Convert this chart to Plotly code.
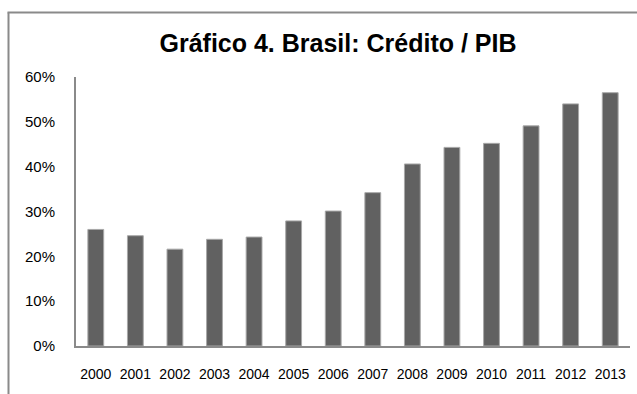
import plotly.graph_objects as go

years = ["2000", "2001", "2002", "2003", "2004", "2005", "2006",
         "2007", "2008", "2009", "2010", "2011", "2012", "2013"]
credito_pib = [0.260, 0.246, 0.216, 0.238, 0.243, 0.279, 0.301,
               0.342, 0.406, 0.443, 0.452, 0.491, 0.540, 0.565]
y_ticks = [0, 0.1, 0.2, 0.3, 0.4, 0.5, 0.6]
y_tick_labels = ["0%", "10%", "20%", "30%", "40%", "50%", "60%"]
title_text = "Gráfico 4. Brasil: Crédito / PIB"

W, H = 637, 394
L, R, T, B = 76, 7, 77, 48
pw, ph = W - L - R, H - T - B

def px_x(x):
    return (x - L) / pw

def px_y(y):
    return (H - B - y) / ph

fig = go.Figure()
fig.add_trace(go.Bar(
    x=years, y=credito_pib,
    marker=dict(color="#616161", line=dict(color="#a8a8a8", width=1)),
    hoverinfo="x+y",
))

font_family = "Liberation Sans, Arial, sans-serif"

fig.update_layout(
    width=W, height=H,
    margin=dict(l=L, r=R, t=T, b=B, pad=0),
    paper_bgcolor="white", plot_bgcolor="white",
    bargap=0.6,
    showlegend=False,
    title=dict(
        text="<b>" + title_text + "</b>",
        x=338 / W, xref="paper" if False else "container", xanchor="center",
        y=1 - 43.5 / H, yref="container", yanchor="middle",
        font=dict(family=font_family, size=25, color="#000000"),
    ),
    xaxis=dict(
        type="category",
        showgrid=False, zeroline=False,
        showline=True, linecolor="#8a8a8a", linewidth=2,
        ticks="", ticklabelstandoff=14,
        tickfont=dict(family=font_family, size=14, color="#000000"),
    ),
    yaxis=dict(
        range=[0, 0.6],
        tickvals=y_ticks, ticktext=y_tick_labels,
        showgrid=False, zeroline=False,
        showline=True, linecolor="#8a8a8a", linewidth=2,
        ticks="", ticklabelstandoff=16,
        tickfont=dict(family=font_family, size=15, color="#000000"),
    ),
    shapes=[
        dict(type="line", xref="paper", yref="paper",
             x0=px_x(8.5), x1=px_x(8.5), y0=px_y(12.5), y1=px_y(H + 2),
             line=dict(color="#8a8a8a", width=2)),
        dict(type="line", xref="paper", yref="paper",
             x0=px_x(7.5), x1=px_x(W + 2), y0=px_y(12.5), y1=px_y(12.5),
             line=dict(color="#8a8a8a", width=2)),
    ],
)

fig.write_html("out.html")
